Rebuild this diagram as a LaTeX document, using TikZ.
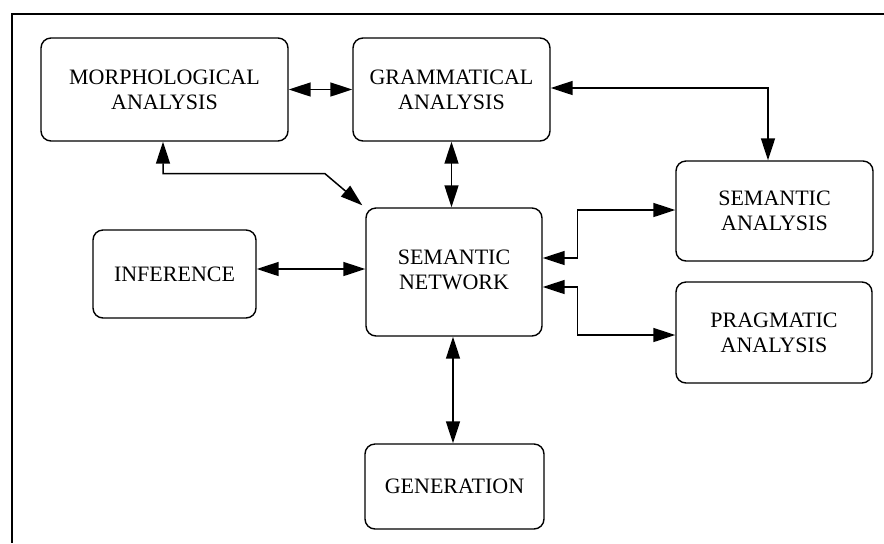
\documentclass[tikz,border=0pt]{standalone}
\usepackage{fontspec}
\setmainfont{Liberation Serif}
\usetikzlibrary{arrows.meta}
\begin{document}
\begin{tikzpicture}[x=0.5pt,y=-0.5pt,
  module/.style={draw, line width=0.7pt, rounded corners=5pt, inner sep=0pt,
    align=center, font=\fontsize{11}{12.5}\selectfont},
  link/.style={line width=0.75pt, {Triangle[length=11pt,width=7pt]}-{Triangle[length=11pt,width=7pt]}}
]
\useasboundingbox (0,0) rectangle (884,543);
% open frame (top and left edges)
\draw[line width=0.6pt] (884,14) -- (12,14) -- (12,543);

% modules
\node[module, minimum width=123.5pt, minimum height=51.5pt] (morph) at (164.5,89.5) {MORPHOLOGICAL\\ANALYSIS};
\node[module, minimum width=98.5pt, minimum height=51.5pt] (gram) at (451.5,89.5) {GRAMMATICAL\\ANALYSIS};
\node[module, minimum width=98.5pt, minimum height=50pt] (seman) at (774.5,211) {SEMANTIC\\ANALYSIS};
\node[module, minimum width=98pt, minimum height=50.5pt] (prag) at (774,332.5) {PRAGMATIC\\ANALYSIS};
\node[module, minimum width=88pt, minimum height=64pt] (net) at (454,272) {\raisebox{-1pt}{\begin{tabular}{@{}c@{}}SEMANTIC\\NETWORK\end{tabular}}};
\node[module, minimum width=81.5pt, minimum height=44pt] (infer) at (174.5,274) {INFERENCE};
\node[module, minimum width=89.5pt, minimum height=42.5pt] (gen) at (454.5,486.5) {\raisebox{-4pt}{GENERATION}};

% connectors
\draw[link] (morph.east) -- (gram.west);
\draw[link] ([yshift=0.75pt]gram.east) -| ([xshift=-3.25pt]seman.north);
\draw[link] (gram.south) -- (gram.south |- net.north);
\draw[link] ([xshift=-0.75pt]morph.south) -- ++(0,32) -- ++(162,0) -- ([xshift=-1.5pt,yshift=1pt]net.north west);
\draw[link] ([yshift=2.5pt]infer.east) coordinate (ie) -- (ie -| net.west);
\draw[link] ([yshift=7pt]net.east) -- ++(17.5pt,0) |- ([yshift=0.5pt]seman.west);
\draw[link] ([yshift=-7.5pt]net.east) -- ++(17.5pt,0) |- ([yshift=-1.25pt]prag.west);
\draw[link] ([xshift=-0.5pt]net.south) -- ([xshift=-0.5pt]net.south |- gen.north);
\end{tikzpicture}
\end{document}
